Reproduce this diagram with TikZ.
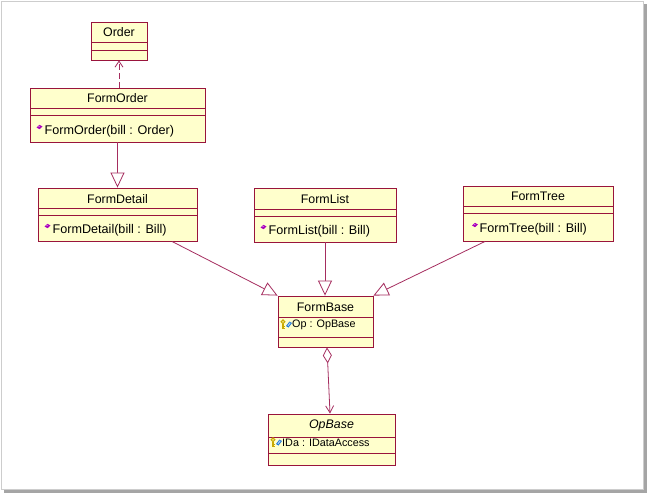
\documentclass[tikz,border=0pt]{standalone}
\usepackage{fontspec}
\setmainfont{Liberation Sans}
\usetikzlibrary{arrows.meta}
\definecolor{boxfill}{RGB}{255,255,204}
\definecolor{boxline}{RGB}{153,20,60}
\definecolor{conn}{RGB}{165,45,95}
\definecolor{opc}{RGB}{170,0,190}
\definecolor{keyc}{RGB}{200,170,0}
\definecolor{blc}{RGB}{30,120,220}
\definecolor{frameA}{RGB}{205,205,205}
\definecolor{frameB}{RGB}{165,165,165}
\tikzset{
  classbox/.style={draw=boxline, fill=boxfill, line width=0.9pt, inner sep=0pt},
  divline/.style={draw=boxline, line width=0.9pt},
  cname/.style={font=\fontsize{12.4}{14}\selectfont, inner sep=0pt},
  copname/.style={font=\fontsize{12.6}{14}\selectfont, inner sep=0pt, anchor=west},
  cattr/.style={font=\fontsize{10.8}{12}\selectfont, inner sep=0pt, anchor=west},
  conline/.style={draw=conn, line width=0.8pt},
  gen/.style={conline, -{Triangle[open, length=15pt, width=14pt, fill=white]}},
  dep/.style={conline, dashed, dash pattern=on 6pt off 3pt, -{Straight Barb[length=6pt, width=8pt]}},
  agg/.style={conline, {Diamond[open, length=16pt, width=9pt, fill=white]}-{Straight Barb[length=7pt, width=8pt]}},
  opico/.pic={\fill[opc] (-3,0.5) -- (0,-2.2) -- (3,-0.5) -- (0,2.2) -- cycle;
              \fill[opc!40] (-1.5,0) -- (0,-1.2) -- (0.6,-0.6) -- cycle;},
  attrico/.pic={\draw[keyc, line width=1.1pt] (0,-2.2) circle (1.8);
                \draw[keyc, line width=1.1pt] (0,-0.4) -- (0,4.5) (0,2.6) -- (1.7,2.6) (0,4.2) -- (1.7,4.2);
                \fill[blc] (3,2) -- (6.5,-2.5) -- (9,-1) -- (5.5,3.5) -- cycle;
                \fill[blc!30] (4.5,1.5) -- (6.8,-1.4) -- (7.6,-0.9) -- (5.3,2) -- cycle;}
}
% name, x1, y1, x2, y2, divider1, divider2
\newcommand{\umlcls}[7]{%
  \node[classbox, minimum width={#4pt-#2pt}, minimum height={#5pt-#3pt}] (#1) at ({(#2+#4)/2},{(#3+#5)/2}) {};
  \draw[divline] (#2,#6) -- (#4,#6);
  \draw[divline] (#2,#7) -- (#4,#7);
}
\begin{document}
\begin{tikzpicture}[x=1pt, y=-1pt]
\useasboundingbox (0,0) rectangle (650,496);
\fill[white] (0,0) rectangle (650,496);
% frame
\draw[frameA, line width=1pt] (1.5,1.5) rectangle (643.5,489.5);
\draw[frameB, line width=2.5pt] (645.5,4) -- (645.5,491.5) -- (4,491.5);

% classes
\umlcls{order}{91}{22}{147}{60}{42}{50}
\node[cname] (orderN) at (119,32) {Order};

\umlcls{forder}{30}{88}{205}{142}{108}{115}
\node[cname] (forderN) at (117.5,98.5) {FormOrder};
\pic at (39.5,127) {opico};
\node[copname] (forderO) at (44.5,131) {FormOrder(bill : Order)};

\umlcls{fdetail}{38}{188}{197}{241}{208}{215}
\node[cname] (fdetailN) at (117.5,199) {FormDetail};
\pic at (47.5,226) {opico};
\node[copname] (fdetailO) at (52.5,230.5) {FormDetail(bill : Bill)};

\umlcls{flist}{254}{188}{396}{242}{209}{216}
\node[cname] (flistN) at (325,199) {FormList};
\pic at (263.5,227) {opico};
\node[copname] (flistO) at (268.5,231.5) {FormList(bill : Bill)};

\umlcls{ftree}{463}{186}{613}{241}{206}{213}
\node[cname] (ftreeN) at (538,196.5) {FormTree};
\pic at (475,225) {opico};
\node[copname] (ftreeO) at (479.5,229.5) {FormTree(bill : Bill)};

\umlcls{fbase}{278}{296}{373}{347}{317}{337}
\node[cname] (fbaseN) at (325.5,307) {FormBase};
\pic at (283,324) {attrico};
\node[cattr] (fbaseA) at (292,324.5) {Op : OpBase};

\umlcls{opbase}{268}{414}{395}{465}{437}{453}
\node[cname, font=\fontsize{12.4}{14}\selectfont\itshape] (opbaseN) at (331.5,425) {OpBase};
\pic at (273,442) {attrico};
\node[cattr] (opbaseA) at (282,442.5) {IDa : IDataAccess};

% connectors
\draw[dep] (forder.north -| order.south) -- (order.south);
\draw[gen] (forder.south -| fdetail.north) -- (fdetail.north);
\draw[gen] ([xshift=54.5pt]fdetail.south) -- (fbase.north west);
\draw[gen] (flist.south) -- (flist.south |- fbase.north);
\draw[gen] ([xshift=-53pt]ftree.south) -- (fbase.north east);
\draw[agg] ([xshift=1.5pt]fbase.south) -- ([xshift=-1.5pt]opbase.north);
\end{tikzpicture}
\end{document}
